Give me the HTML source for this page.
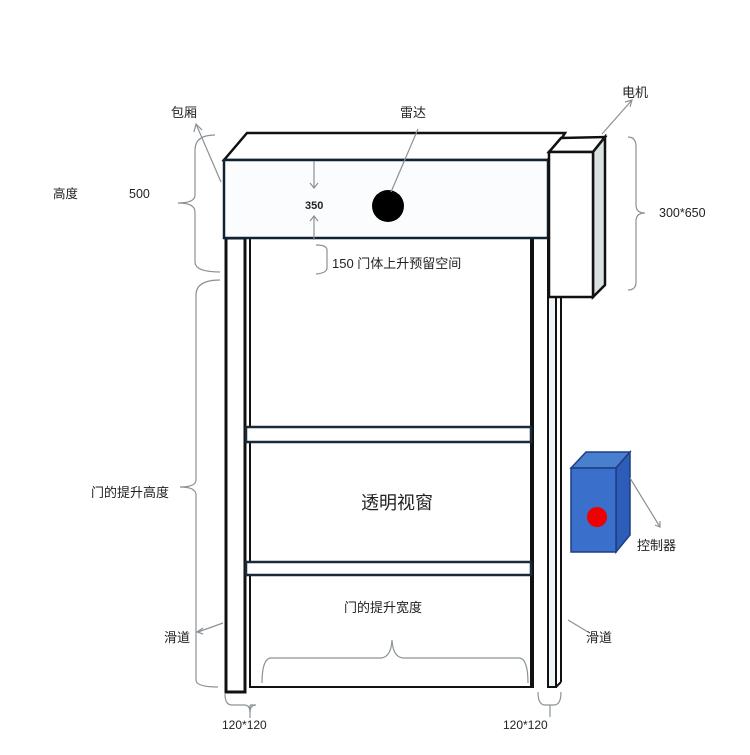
<!DOCTYPE html>
<html><head><meta charset="utf-8"><style>
html,body{margin:0;padding:0;background:#fff;}
svg text{font-family:"Liberation Sans","Noto Sans CJK SC",sans-serif;fill:#222;}
</style></head><body>
<svg width="750" height="750" viewBox="0 0 750 750" xmlns="http://www.w3.org/2000/svg">
<rect width="750" height="750" fill="#fff"/>
<!-- left post -->
<rect x="226" y="238" width="19" height="454" fill="#fff" stroke="#111" stroke-width="3"/>
<line x1="250" y1="238" x2="250" y2="688" stroke="#111" stroke-width="2"/>
<!-- right post -->
<line x1="532" y1="238" x2="532" y2="688" stroke="#111" stroke-width="4"/>
<line x1="548" y1="238" x2="548" y2="296" stroke="#111" stroke-width="2"/>
<rect x="548" y="296" width="8" height="391" fill="#eef3f6" stroke="#111" stroke-width="2"/>
<line x1="556" y1="296" x2="561" y2="292" stroke="#111" stroke-width="2"/>
<line x1="561" y1="292" x2="561" y2="682" stroke="#111" stroke-width="2"/>
<line x1="556" y1="687" x2="561" y2="682" stroke="#111" stroke-width="2"/>
<!-- door bottom -->
<line x1="250" y1="687" x2="532" y2="687" stroke="#111" stroke-width="2"/>
<!-- bars -->
<rect x="246" y="427" width="285" height="15" fill="#fff" stroke="#1a2a3a" stroke-width="2.5"/>
<rect x="246" y="562" width="285" height="13" fill="#fff" stroke="#1a2a3a" stroke-width="2.5"/>
<!-- header -->
<polygon points="224,160 247,133 565,133 548,160" fill="#fff" stroke="#111" stroke-width="2.5"/>
<rect x="224" y="160" width="324" height="78" fill="#fafcfd" stroke="#123" stroke-width="2.5"/>
<circle cx="388" cy="206" r="16" fill="#000"/>
<!-- motor -->
<polygon points="549,152 561,138 605,137 593,152" fill="#fff" stroke="#111" stroke-width="2.5"/>
<polygon points="593,152 605,137 605,285 593,297" fill="#d9e2e0" stroke="#111" stroke-width="2.5"/>
<rect x="549" y="152" width="44" height="145" fill="#fff" stroke="#111" stroke-width="2.5"/>
<!-- controller -->
<polygon points="571,468 586,452 630,452 616,468" fill="#4a7fd0" stroke="#1c3f80" stroke-width="1.5"/>
<polygon points="616,468 630,452 630,535 616,552" fill="#2d5db8" stroke="#1c3f80" stroke-width="1.5"/>
<rect x="571" y="468" width="45" height="84" fill="#3a6fcc" stroke="#1c3f80" stroke-width="1.5"/>
<circle cx="597" cy="517" r="10" fill="#e00"/>
<!-- dimension lines (gray) -->
<g fill="none" stroke="#8a9296" stroke-width="1.2">
<path d="M215,135 Q195,135 195,150 L195,195 Q195,203 178,203 Q195,203 195,212 L195,262 Q195,272 220,272"/>
<path d="M220,280 Q196,280 196,295 L196,480 Q196,487 180,487 Q196,487 196,495 L196,680 Q196,687 218,687"/>
<path d="M628,137 Q636,137 636,147 L636,205 Q636,213 645,213 Q636,213 636,221 L636,282 Q636,290 628,290"/>
<path d="M316,245 Q327,245 327,250 L327,268 Q327,273 316,274"/>
<path d="M262,683 Q262,660 270,658 L380,658 Q391,658 392,640 Q393,658 404,658 L520,658 Q528,660 528,683"/>
<path d="M225,694 Q225,705 232,705 L244,705 Q250,705 250,712 Q250,705 256,705 Q250,705 250,705"/>
<line x1="250" y1="705" x2="250" y2="718"/>
<path d="M538,692 Q538,705 545,705 L554,705 Q561,705 561,692"/>
<line x1="550" y1="705" x2="550" y2="717"/>
<line x1="314" y1="161" x2="314" y2="188"/>
<path d="M310,183 L314,188 L318,183"/>
<line x1="314" y1="216" x2="314" y2="240"/>
<path d="M310,221 L314,216 L318,221"/>
<line x1="221" y1="182" x2="196" y2="124"/>
<path d="M194,132 L196,124 L202,130"/>
<line x1="391" y1="192" x2="418" y2="129"/>
<line x1="602" y1="134" x2="632" y2="100"/>
<path d="M625,102 L632,100 L630,107"/>
<line x1="630" y1="478" x2="660" y2="527"/>
<path d="M655,525 L660,527 L660,521"/>
<line x1="223" y1="623" x2="198" y2="632"/>
<path d="M203,628 L197,632 L203,634"/>
<line x1="568" y1="620" x2="588" y2="632"/>
</g>
<!-- labels -->
<text x="171" y="117" font-size="13">包厢</text>
<text x="400" y="117" font-size="13">雷达</text>
<text x="622" y="97" font-size="13">电机</text>
<text x="53" y="198" font-size="12.5">高度</text>
<text x="129" y="198" font-size="12.5">500</text>
<text x="305" y="209" font-size="11" font-weight="bold">350</text>
<text x="332" y="268" font-size="13">150 门体上升预留空间</text>
<text x="659" y="217" font-size="12.5">300*650</text>
<text x="91" y="497" font-size="13">门的提升高度</text>
<text x="361" y="509" font-size="18">透明视窗</text>
<text x="344" y="612" font-size="13">门的提升宽度</text>
<text x="164" y="642" font-size="13">滑道</text>
<text x="586" y="642" font-size="13">滑道</text>
<text x="637" y="550" font-size="13">控制器</text>
<text x="222" y="729" font-size="12">120*120</text>
<text x="503" y="729" font-size="12">120*120</text>
</svg>
</body></html>
